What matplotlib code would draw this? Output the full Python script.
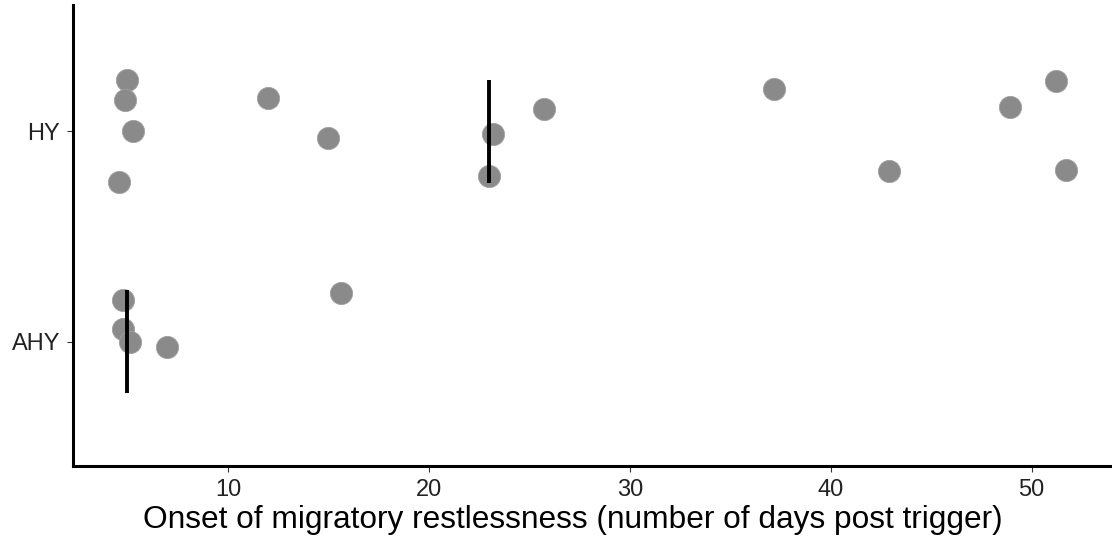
import matplotlib
matplotlib.use("Agg")
import matplotlib.pyplot as plt

plt.rcParams["font.family"] = ["Liberation Sans", "DejaVu Sans"]

GREY = "#8a8a8a"

# age classes on the y axis (bottom to top)
groups = ["AHY", "HY"]

# jittered points: onset day and jittered y position
hy_days = [4.96, 4.86, 5.26, 4.56, 11.97, 14.96, 23.2, 23.0, 25.7, 37.15, 42.9, 48.9, 51.2, 51.7]
hy_ypos = [2.246, 2.15, 2.0, 1.76, 2.156, 1.967, 1.986, 1.787, 2.104, 2.20, 1.81, 2.114, 2.24, 1.815]
ahy_days = [4.76, 4.76, 5.1, 6.95, 15.6]
ahy_ypos = [1.199, 1.062, 1.0, 0.976, 1.232]

# group medians (drawn as vertical bars)
medians = [4.96, 22.96]

fig = plt.figure(figsize=(11.12, 5.39), dpi=100)
ax = fig.add_axes([0.0654, 0.1354, 0.9346, 0.8553])

ax.scatter(hy_days, hy_ypos, s=255, color=GREY, edgecolors="#a0a0a0", linewidths=0.6, zorder=2)
ax.scatter(ahy_days, ahy_ypos, s=255, color=GREY, edgecolors="#a0a0a0", linewidths=0.6, zorder=2)
for i, m in enumerate(medians):
    ax.vlines(m, i + 1 - 0.245, i + 1 + 0.245, color="black", linewidth=2.8, zorder=3)

ax.set_xlim(2.26, 54.0)
ax.set_ylim(0.41, 2.6)
ax.set_yticks([1, 2])
ax.set_yticklabels(groups)
ax.set_xticks([10, 20, 30, 40, 50])

for side in ("top", "right"):
    ax.spines[side].set_visible(False)
for side in ("left", "bottom"):
    ax.spines[side].set_linewidth(2.2)
    ax.spines[side].set_color("black")

ax.tick_params(axis="both", length=4, width=0.8, color="#333333", pad=5)
ax.tick_params(axis="x", labelsize=17, labelcolor="#222222")
ax.tick_params(axis="y", labelsize=17, labelcolor="#222222")
ax.set_xlabel("Onset of migratory restlessness (number of days post trigger)", fontsize=22.8)
ax.xaxis.set_label_coords(0.481, -0.085)

fig.savefig("out.png", dpi=100)
